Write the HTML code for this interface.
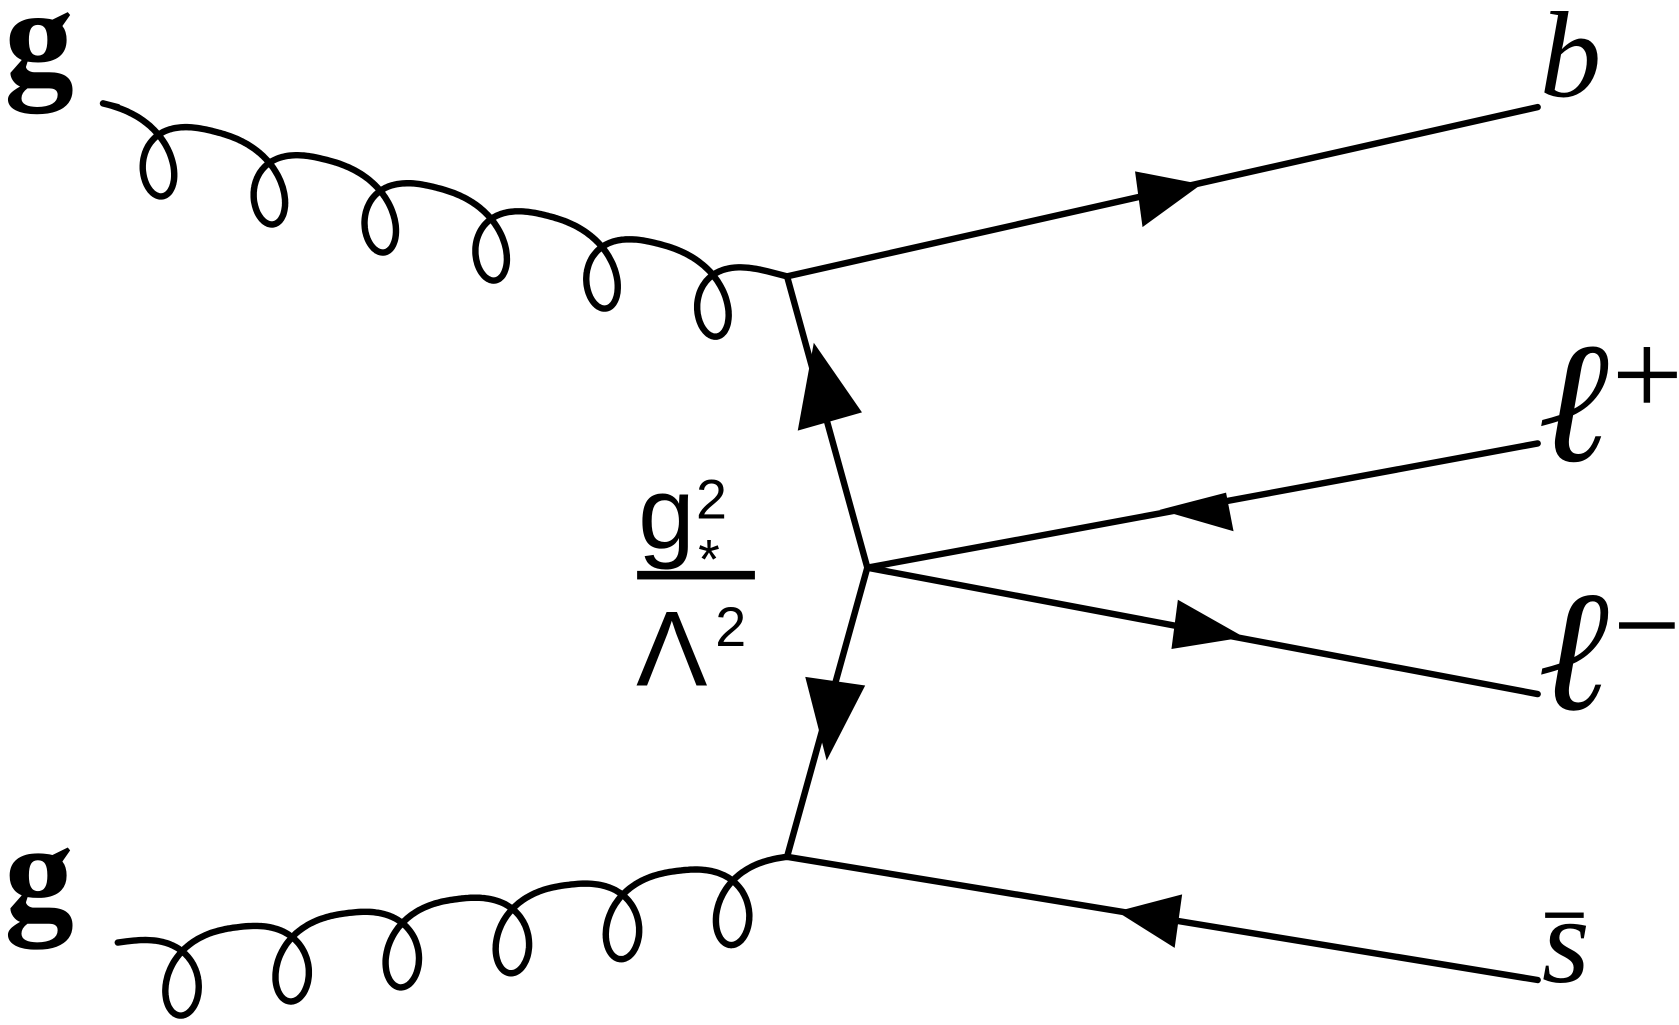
<!DOCTYPE html>
<html><head><meta charset="utf-8">
<style>
html,body{margin:0;padding:0;background:#fff;}
svg{display:block;}
</style></head>
<body>
<svg id="s" width="1679" height="1025" viewBox="0 0 1568 957" preserveAspectRatio="none" xmlns="http://www.w3.org/2000/svg">
<g fill="none" stroke="#000" stroke-width="6" stroke-linecap="round" stroke-linejoin="round">
<path id="g1" d=""/>
<path id="g2" d=""/>
<line x1="735" y1="258" x2="1436" y2="100"/>
<line x1="735" y1="258" x2="810" y2="530"/>
<line x1="810" y1="530" x2="735" y2="800"/>
<line x1="810" y1="530" x2="1436" y2="414"/>
<line x1="810" y1="530" x2="1436" y2="648"/>
<line x1="735" y1="800" x2="1436" y2="915"/>
</g>
<g fill="#000" stroke="none">
<polygon points="1122,172 1060,160 1067,212"/>
<polygon points="1083,476 1145,460 1152,496"/>
<polygon points="1162,595 1100,560 1094,606"/>
<polygon points="1043,851 1104,835 1097,885"/>
<polygon points="760,320 745,402 805,385"/>
<polygon points="772,710 752,632 808,640"/>
<rect x="595" y="533" width="110" height="8"/>
</g>
<g font-family="'Liberation Serif','DejaVu Serif',serif" fill="#000">
<text x="4" y="78" font-size="130" font-weight="bold">g</text>
<text x="4" y="858" font-size="130" font-weight="bold">g</text>
<text x="1438" y="90" font-size="115" font-style="italic">b</text>
<text x="1440" y="917" font-size="115" font-style="italic">s</text>
</g>
<rect x="1443" y="852" width="36" height="5" fill="#000"/>
<g font-family="'DejaVu Serif',serif" font-style="italic" fill="#000">
<text x="1436" y="430" font-size="160">ℓ</text>
<text x="1436" y="662" font-size="160">ℓ</text>
</g>
<g fill="#000">
<rect x="1511" y="347" width="55" height="6"/>
<rect x="1535" y="324" width="6" height="52"/>
<rect x="1512" y="581" width="52" height="6"/>
</g>
<g font-family="'Liberation Sans','DejaVu Sans',sans-serif" fill="#000">
<text x="596" y="512" font-size="95">g</text>
<text x="650" y="484" font-size="52">2</text>
<text x="652" y="540" font-size="52">*</text>
<text x="594" y="640" font-size="100">Λ</text>
<text x="668" y="603" font-size="52">2</text>
</g>
</svg>
<script>
function gluon(id,P0,P1,s1,a,bx,c){
  var dx=P1[0]-P0[0],dy=P1[1]-P0[1],L=Math.hypot(dx,dy),ux=dx/L,uy=dy/L;
  var d="M"+P0[0]+","+P0[1]+" ";
  for(var phi=-Math.PI;phi<=11*Math.PI+1e-6;phi+=0.04){
    var s=s1+a*phi-bx*Math.sin(phi);
    var yo=c*Math.pow(1+Math.cos(phi),1.2);
    var x=P0[0]+ux*s, y=P0[1]+uy*s+yo;
    d+="L"+x.toFixed(1)+","+y.toFixed(1)+" ";
  }
  d+="L"+P1[0]+","+P1[1];
  document.getElementById(id).setAttribute("d",d);
}
gluon("g1",[110,100],[735,258],39.2,17,38,32);
gluon("g2",[110,880],[735,800],60.5,16.5,38,33);
</script>
</body></html>
